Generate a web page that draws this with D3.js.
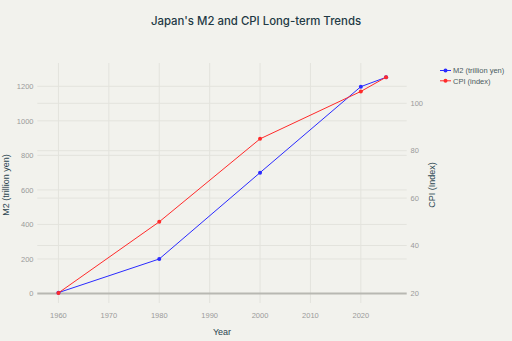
<!DOCTYPE html>
<html><head><meta charset="utf-8">
<script src="https://cdn.jsdelivr.net/npm/d3@7"></script>
<style>html,body{margin:0;padding:0;background:#f2f2ed;}svg{display:block;font-family:"Liberation Sans",Arial,sans-serif;}</style>
</head><body><svg id="c" width="512" height="341"></svg>
<script>
const years = [1960, 1980, 2000, 2020, 2025];
const m2 = [5, 200, 700, 1198, 1252];
const cpi = [20, 50, 85, 105, 111];
const xTicks = [1960, 1970, 1980, 1990, 2000, 2010, 2020];
const leftTicks = [0, 200, 400, 600, 800, 1000, 1200];
const rightTicks = [20, 40, 60, 80, 100];
const seriesNames = ["M2 (trillion yen)", "CPI (index)"];

const svg = d3.select("#c");
const L = 37.3, R = 406.7, T = 63, B = 303;
const x = d3.scaleLinear().domain([1955.8, 2029.1]).range([L, R]);
const yL = d3.scaleLinear().domain([-55, 1335]).range([B, T]);
const yR = d3.scaleLinear().domain([15.74, 117.0]).range([B, T]);
const gridC = "#e3e3dd", tickC = "#9a9a9a", textC = "#2b4550";

svg.append("rect").attr("width", 512).attr("height", 341).attr("fill", "#f2f2ed");

const g = svg.append("g");
g.selectAll(".vx").data(xTicks).join("line")
  .attr("x1", d => x(d)).attr("x2", d => x(d)).attr("y1", T).attr("y2", B)
  .attr("stroke", gridC).attr("stroke-width", 1);
g.selectAll(".hl").data(leftTicks.filter(d => d !== 0)).join("line")
  .attr("x1", L).attr("x2", R).attr("y1", d => yL(d)).attr("y2", d => yL(d))
  .attr("stroke", gridC).attr("stroke-width", 1);
svg.append("g").selectAll("line").data(rightTicks.filter(d => d !== 20)).join("line")
  .attr("x1", L).attr("x2", R).attr("y1", d => yR(d)).attr("y2", d => yR(d))
  .attr("stroke", gridC).attr("stroke-width", 1);
svg.append("line").attr("x1", L).attr("x2", R).attr("y1", yL(0)).attr("y2", yL(0))
  .attr("stroke", "#b8b8b2").attr("stroke-width", 2);

svg.append("g").selectAll("text").data(xTicks).join("text")
  .attr("x", d => x(d)).attr("y", 318).attr("text-anchor", "middle")
  .attr("font-size", 7.5).attr("fill", tickC).text(d => d);
svg.append("g").selectAll("text").data(leftTicks).join("text")
  .attr("x", 33.5).attr("y", d => yL(d) + 2.7).attr("text-anchor", "end")
  .attr("font-size", 7.5).attr("fill", tickC).text(d => d);
svg.append("g").selectAll("text").data(rightTicks).join("text")
  .attr("x", 410.5).attr("y", d => yR(d) + 2.7).attr("text-anchor", "start")
  .attr("font-size", 7.5).attr("fill", tickC).text(d => d);

svg.append("text").attr("x", 256).attr("y", 25).attr("text-anchor", "middle")
  .attr("font-size", 11.4).attr("font-family", "Inter, 'Liberation Sans', sans-serif").attr("font-weight", 500)
  .attr("fill", "#1f3a45").text("Japan's M2 and CPI Long-term Trends");
svg.append("text").attr("x", (L + R) / 2).attr("y", 335).attr("text-anchor", "middle")
  .attr("font-size", 9).attr("fill", textC).text("Year");
svg.append("text").attr("transform", "translate(9,185) rotate(-90)").attr("text-anchor", "middle")
  .attr("font-size", 9).attr("fill", textC).text("M2 (trillion yen)");
svg.append("text").attr("transform", "translate(435,185) rotate(-90)").attr("text-anchor", "middle")
  .attr("font-size", 9).attr("fill", textC).text("CPI (Index)");

const data = years.map((yr, i) => ({yr, m2: m2[i], cpi: cpi[i]}));
const blue = "#2a2aff", red = "#ff2a2a";
svg.append("path").datum(data).attr("fill", "none").attr("stroke", blue).attr("stroke-width", 1)
  .attr("d", d3.line().x(d => x(d.yr)).y(d => yL(d.m2)));
svg.append("g").selectAll("circle").data(data).join("circle")
  .attr("cx", d => x(d.yr)).attr("cy", d => yL(d.m2)).attr("r", 2).attr("fill", blue);
svg.append("path").datum(data).attr("fill", "none").attr("stroke", red).attr("stroke-width", 1)
  .attr("d", d3.line().x(d => x(d.yr)).y(d => yR(d.cpi)));
svg.append("g").selectAll("circle").data(data).join("circle")
  .attr("cx", d => x(d.yr)).attr("cy", d => yR(d.cpi)).attr("r", 2).attr("fill", red);

const leg = svg.append("g");
[blue, red].forEach((c, i) => {
  const yy = 70.5 + i * 10.3;
  leg.append("line").attr("x1", 440).attr("x2", 451).attr("y1", yy).attr("y2", yy).attr("stroke", c).attr("stroke-width", 1);
  leg.append("circle").attr("cx", 445.5).attr("cy", yy).attr("r", 2).attr("fill", c);
  leg.append("text").attr("x", 453).attr("y", yy + 2.7).attr("font-size", 7.5).attr("fill", "#4a5a60").text(seriesNames[i]);
});
</script></body></html>
